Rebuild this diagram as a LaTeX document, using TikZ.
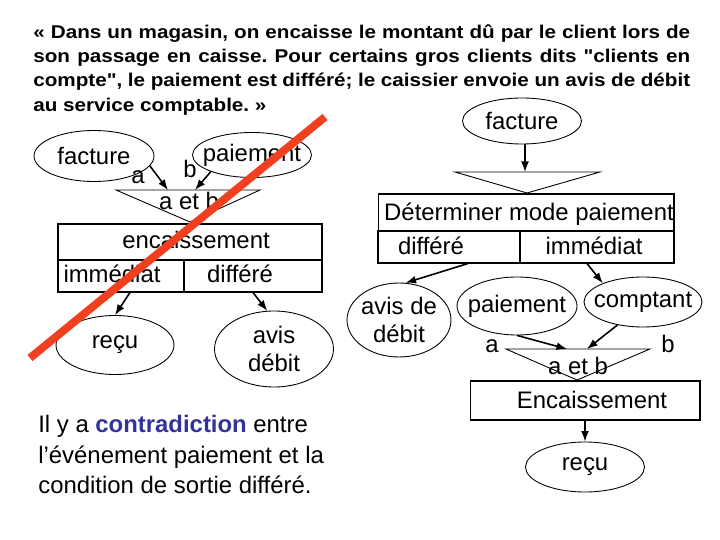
\documentclass[tikz,border=0pt]{standalone}
\usepackage{fontspec}
\setmainfont{Liberation Sans}
\newfontfamily\headfont[FakeStretch=1.12]{Liberation Sans}
\usetikzlibrary{shapes.geometric,arrows.meta}
\definecolor{contrablue}{RGB}{51,51,153}
\definecolor{barred}{RGB}{240,64,32}
\frenchspacing

\begin{document}
\begin{tikzpicture}[x=0.02cm,y=-0.02cm,
    ell/.style={draw,ellipse,line width=0.5pt,inner sep=0pt,align=center,font=\fontsize{13.6}{16.2}\selectfont},
    cell/.style={draw,rectangle,line width=0.6pt,inner sep=0pt},
    lbl/.style={inner sep=0pt,anchor=base,font=\fontsize{13.6}{16.2}\selectfont},
    hd/.style={inner sep=0pt,anchor=base west,font=\headfont\fontsize{10.5}{12}\selectfont\bfseries},
    arr/.style={-{Latex[length=6pt,width=4.5pt]},line width=0.9pt},
    tri/.style={line width=0.5pt}]
      \useasboundingbox[fill=white] (0,0) rectangle (720,540);

      \node[hd] (hdA) at (33,39) {\makebox[13.14cm][s]{« Dans un magasin, on encaisse le montant dû par le client lors de}};
      \node[hd] (hdB) at (33,63) {\makebox[13.14cm][s]{son passage en caisse. Pour certains gros clients dits "clients en}};
      \node[hd] (hdC) at (33,87) {\makebox[13.14cm][s]{compte", le paiement est différé; le caissier envoie un avis de débit}};
      \node[hd] (hdD) at (33,112) {au service comptable. »};

      \node[ell,minimum width=2.4cm,minimum height=1.02cm] (facL) at (94,156) {\makebox[0pt]{facture}};
      \node[ell,minimum width=2.38cm,minimum height=0.9cm] (paiL) at (252,155) {\makebox[0pt]{paiement}};
      \coordinate (triLa) at (116,190);
      \coordinate (triLb) at (260,190);
      \coordinate (triLc) at (190,222);
      \draw[tri] (triLa) -- (triLb) -- (triLc) -- cycle;
      \node[lbl] (etL) at (189,210) {a et b};
      \coordinate (inLa) at (168,190);
      \coordinate (inLb) at (195,190);
      \draw[arr] (facL.-10) -- (inLa);
      \draw[arr] (paiL.202) -- (inLb);
      \node[lbl] (aL) at (138,184) {a};
      \node[lbl] (bL) at (190,178) {b};

      \node[cell,minimum width=5.28cm,minimum height=0.72cm] (encL) at (190,242) {};
      \node[cell,minimum width=2.52cm,minimum height=0.64cm] (immL) at (121,276) {};
      \node[cell,minimum width=2.76cm,minimum height=0.64cm] (difL) at (253,276) {};
      \node[lbl] (encLt) at (196,249) {encaissement};
      \node[lbl] (immLt) at (112,283) {immédiat};
      \node[lbl] (difLt) at (240,283) {différé};

      \node[ell,minimum width=2.36cm,minimum height=1.18cm] (recuL) at (115,345) {\makebox[0pt]{reçu}};
      \node[ell,minimum width=2.38cm,minimum height=1.52cm] (avisL) at (274,349) {\makebox[0pt]{avis}\\\makebox[0pt]{débit}};
      \draw[arr] ([xshift=0.18cm]immL.south) -- (recuL.north);
      \draw[arr] (difL.south) -- (avisL.100);

      \node[lbl,anchor=base west] (ctA) at (38,433) {Il y a \textbf{\color{contrablue}contradiction} entre};
      \node[lbl,anchor=base west] (ctB) at (38,463) {l’événement paiement et la};
      \node[lbl,anchor=base west] (ctC) at (38,493) {condition de sortie différé.};

      \node[ell,minimum width=2.38cm,minimum height=0.92cm] (facR) at (522,121) {\makebox[0pt]{facture}};
      \coordinate (triRa) at (455,172);
      \coordinate (triRb) at (600,172);
      \coordinate (triRc) at (527,193);
      \draw[tri] (triRa) -- (triRb) -- (triRc) -- cycle;
      \coordinate (inRf) at (525,172);
      \draw[arr] (facR.south -| inRf) -- (inRf);

      \node[cell,minimum width=5.92cm,minimum height=0.74cm] (detR) at (526,212.5) {};
      \node[cell,minimum width=2.84cm,minimum height=0.64cm] (difR) at (449,247) {};
      \node[cell,minimum width=3.08cm,minimum height=0.64cm] (immR) at (597,247) {};
      \node[lbl] (detRt) at (529,221) {Déterminer mode paiement};
      \node[lbl] (difRt) at (431,255) {différé};
      \node[lbl] (immRt) at (594,255) {immédiat};

      \node[ell,minimum width=2.08cm,minimum height=1.48cm] (avisR) at (399,320) {\makebox[0pt]{avis de}\\\makebox[0pt]{débit}};
      \node[ell,minimum width=2.4cm,minimum height=1.16cm] (paieR) at (517,306) {\makebox[0pt]{paiement}};
      \node[ell,minimum width=2.36cm,minimum height=1cm] (compR) at (643,302) {\makebox[0pt]{comptant}};
      \draw[arr] ([xshift=0.38cm]difR.south) -- (avisR.80);
      \draw[arr] ([xshift=-0.2cm]immR.south) -- (compR.155);

      \coordinate (triRd) at (506,349);
      \coordinate (triRe) at (650,349);
      \coordinate (triRf) at (577,380);
      \draw[tri] (triRd) -- (triRe) -- (triRf) -- cycle;
      \coordinate (inRa) at (567,349);
      \coordinate (inRb) at (587,349);
      \draw[arr] (paieR.south) -- (inRa);
      \draw[arr] (compR.222) -- (inRb);
      \node[lbl] (aR) at (492,353) {a};
      \node[lbl] (bR) at (668,353) {b};
      \node[lbl] (etR) at (578,375) {a et b};

      \node[cell,minimum width=4.6cm,minimum height=0.78cm] (encR) at (585,400.5) {};
      \node[lbl] (encRt) at (592,408) {Encaissement};
      \node[ell,minimum width=2.38cm,minimum height=1cm] (recuR) at (585,467) {\makebox[0pt]{reçu}};
      \draw[arr] (encR.south) -- (recuR.north);

      \draw[barred,line width=4.5pt] (325,117) -- (30,358);
\end{tikzpicture}
\end{document}
